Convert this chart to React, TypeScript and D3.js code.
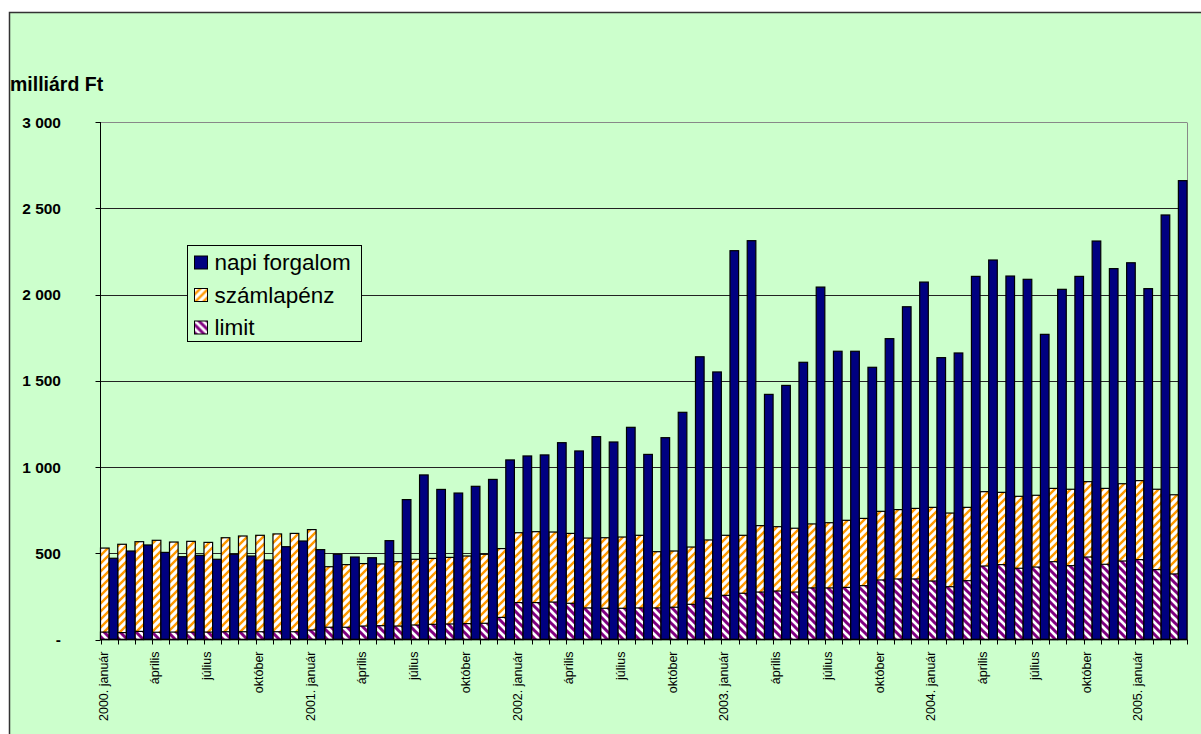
import React, { useRef, useEffect } from 'react';
import * as d3 from 'd3';

// 2000. január .. 2005. március, havi adatok (milliárd Ft)
const years = [2000, 2001, 2002, 2003, 2004, 2005];
const monthNames = ['január', 'február', 'március', 'április', 'május', 'június',
  'július', 'augusztus', 'szeptember', 'október', 'november', 'december'];

const napiForgalom = [
  471, 513, 548, 505, 480, 488, 465, 494, 484, 461, 538, 571,
  521, 494, 478, 474, 573, 811, 954, 870, 849, 888, 928, 1041,
  1064, 1070, 1141, 1093, 1176, 1145, 1230, 1073, 1170, 1317, 1639, 1551,
  2254, 2312, 1421, 1473, 1607, 2043, 1671, 1671, 1578, 1744, 1929, 2072,
  1634, 1661, 2105, 2200, 2107, 2088, 1769, 2030, 2105, 2310, 2150, 2184,
  2034, 2461, 2660
];

const szamlapenz = [
  530, 552, 567, 575, 565, 569, 563, 590, 600, 604, 612, 615,
  637, 422, 434, 440, 438, 451, 465, 470, 476, 484, 494, 527,
  619, 625, 623, 615, 588, 590, 594, 604, 509, 513, 536, 577,
  604, 604, 660, 654, 645, 670, 677, 691, 702, 743, 753, 760,
  766, 733, 766, 857, 853, 830, 836, 876, 871, 915, 876, 903,
  921, 871, 839
];

const limit = [
  43, 40, 47, 42, 43, 43, 43, 45, 45, 45, 45, 45,
  55, 71, 71, 78, 80, 78, 84, 88, 90, 92, 94, 128,
  214, 214, 217, 210, 183, 181, 181, 183, 183, 187, 204, 239,
  256, 268, 275, 281, 275, 299, 299, 302, 312, 345, 351, 351,
  339, 306, 341, 426, 434, 413, 420, 451, 428, 478, 436, 455,
  463, 405, 380
];

const categories = napiForgalom.map((_, i) => {
  const m = i % 12;
  return m === 0 ? `${years[Math.floor(i / 12)]}. ${monthNames[m]}` : monthNames[m];
});

const yTicks = [0, 500, 1000, 1500, 2000, 2500, 3000];
const yTickLabels = ['-', '500', '1 000', '1 500', '2 000', '2 500', '3 000'];

const seriesNames = ['napi forgalom', 'számlapénz', 'limit'];

const W = 1201;
const H = 734;
const FONT = 'Liberation Sans, Arial, sans-serif';

const App = () => {
  const svgRef = useRef<SVGSVGElement | null>(null);

  useEffect(() => {
    if (!svgRef.current) return;
    const svg = d3.select(svgRef.current);
    svg.selectAll('*').remove();

    const plot = { left: 100.5, right: 1187, top: 122, bottom: 639.5 };

    // patterns
    const defs = svg.append('defs');
    const orange = defs.append('pattern')
      .attr('id', 'pat-szamla')
      .attr('patternUnits', 'userSpaceOnUse')
      .attr('width', 8).attr('height', 8);
    orange.append('rect').attr('width', 8).attr('height', 8).attr('fill', '#fff');
    orange.append('path')
      .attr('d', 'M-2,2 L2,-2 M0,8 L8,0 M6,10 L10,6')
      .attr('stroke', '#FF9900').attr('stroke-width', 2.4);

    const purple = defs.append('pattern')
      .attr('id', 'pat-limit')
      .attr('patternUnits', 'userSpaceOnUse')
      .attr('width', 8).attr('height', 8);
    purple.append('rect').attr('width', 8).attr('height', 8).attr('fill', '#fff');
    purple.append('path')
      .attr('d', 'M-2,6 L2,10 M0,0 L8,8 M6,-2 L10,2')
      .attr('stroke', '#800080').attr('stroke-width', 3);

    // background / chart area
    svg.append('rect').attr('width', W).attr('height', H).attr('fill', '#fff');
    svg.append('rect')
      .attr('x', 9.5).attr('y', 12.5)
      .attr('width', W + 20).attr('height', H + 20)
      .attr('fill', '#CCFFCC')
      .attr('stroke', '#333').attr('stroke-width', 1.5);

    const x = d3.scaleBand<number>()
      .domain(d3.range(categories.length))
      .range([plot.left, plot.right])
      .paddingInner(0)
      .paddingOuter(0);

    const y = d3.scaleLinear()
      .domain([0, 3000])
      .range([plot.bottom, plot.top]);

    const half = x.bandwidth() / 2;

    // gridlines
    svg.append('g')
      .selectAll('line')
      .data(yTicks.filter(d => d > 0))
      .enter()
      .append('line')
      .attr('x1', plot.left).attr('x2', plot.right)
      .attr('y1', d => Math.round(y(d)) + 0.5)
      .attr('y2', d => Math.round(y(d)) + 0.5)
      .attr('stroke', d => d === 3000 ? '#888' : '#222')
      .attr('stroke-width', 1);

    // plot area right border
    svg.append('line')
      .attr('x1', plot.right + 0.5).attr('x2', plot.right + 0.5)
      .attr('y1', plot.top + 0.5).attr('y2', plot.bottom)
      .attr('stroke', '#888');

    const bars = svg.append('g');

    // számlapénz (left bar)
    bars.selectAll('.szamla')
      .data(szamlapenz)
      .enter()
      .append('rect')
      .attr('class', 'szamla')
      .attr('x', (d, i) => (x(i) as number))
      .attr('y', d => y(d))
      .attr('width', half)
      .attr('height', d => y(0) - y(d))
      .attr('fill', 'url(#pat-szamla)')
      .attr('stroke', '#000').attr('stroke-width', 1.2);

    // limit (left bar, in front)
    bars.selectAll('.limit')
      .data(limit)
      .enter()
      .append('rect')
      .attr('class', 'limit')
      .attr('x', (d, i) => (x(i) as number))
      .attr('y', d => y(d))
      .attr('width', half)
      .attr('height', d => y(0) - y(d))
      .attr('fill', 'url(#pat-limit)')
      .attr('stroke', '#000').attr('stroke-width', 1.2);

    // napi forgalom (right bar)
    bars.selectAll('.napi')
      .data(napiForgalom)
      .enter()
      .append('rect')
      .attr('class', 'napi')
      .attr('x', (d, i) => (x(i) as number) + half)
      .attr('y', d => y(d))
      .attr('width', half)
      .attr('height', d => y(0) - y(d))
      .attr('fill', '#000080')
      .attr('stroke', '#000').attr('stroke-width', 1.2);

    // y axis
    svg.append('line')
      .attr('x1', plot.left).attr('x2', plot.left)
      .attr('y1', plot.top).attr('y2', plot.bottom)
      .attr('stroke', '#000');
    svg.append('g')
      .selectAll('line')
      .data(yTicks)
      .enter()
      .append('line')
      .attr('x1', plot.left - 5).attr('x2', plot.left)
      .attr('y1', d => Math.round(y(d)) + 0.5)
      .attr('y2', d => Math.round(y(d)) + 0.5)
      .attr('stroke', '#000');
    svg.append('g')
      .selectAll('text')
      .data(yTicks)
      .enter()
      .append('text')
      .attr('x', 61)
      .attr('y', d => y(d) + 5.5)
      .attr('text-anchor', 'end')
      .attr('font-family', FONT)
      .attr('font-weight', 'bold')
      .attr('font-size', 15.5)
      .text((d, i) => yTickLabels[i]);

    svg.append('text')
      .attr('x', 10).attr('y', 91)
      .attr('font-family', FONT)
      .attr('font-weight', 'bold')
      .attr('font-size', 19.5)
      .text('milliárd Ft');

    // x axis
    svg.append('line')
      .attr('x1', plot.left).attr('x2', plot.right)
      .attr('y1', plot.bottom).attr('y2', plot.bottom)
      .attr('stroke', '#000').attr('stroke-width', 1.5);
    svg.append('g')
      .selectAll('line')
      .data(d3.range(categories.length + 1))
      .enter()
      .append('line')
      .attr('x1', i => Math.round(plot.left + i * x.step()) + 0.5)
      .attr('x2', i => Math.round(plot.left + i * x.step()) + 0.5)
      .attr('y1', plot.bottom).attr('y2', plot.bottom + 5)
      .attr('stroke', '#000');
    svg.append('g')
      .selectAll('text')
      .data(categories.map((c, i) => ({ c, i })).filter(d => d.i % 3 === 0))
      .enter()
      .append('text')
      .attr('transform', d => `translate(${(x(d.i) as number) + half - 1.5},${plot.bottom + 12}) rotate(-90)`)
      .attr('text-anchor', 'end')
      .attr('font-family', FONT)
      .attr('font-size', 12.5)
      .text(d => d.c);

    // legend
    const lg = svg.append('g').attr('transform', 'translate(187.5,245.5)');
    lg.append('rect')
      .attr('width', 174).attr('height', 96)
      .attr('fill', '#CCFFCC')
      .attr('stroke', '#000');
    const fills = ['#000080', 'url(#pat-szamla)', 'url(#pat-limit)'];
    seriesNames.forEach((name, i) => {
      const cy = 17 + i * 32.5;
      lg.append('rect')
        .attr('x', 7).attr('y', cy - 6.5)
        .attr('width', 13).attr('height', 13)
        .attr('fill', fills[i])
        .attr('stroke', '#000');
      lg.append('text')
        .attr('x', 27).attr('y', cy + 7.5)
        .attr('font-family', FONT)
        .attr('font-size', 22.5)
        .text(name);
    });
  }, []);

  return (
    <div style={{ position: 'absolute', left: 0, top: 0 }}>
      <svg ref={svgRef} width={W} height={H} style={{ display: 'block' }}></svg>
    </div>
  );
};

export default App;
